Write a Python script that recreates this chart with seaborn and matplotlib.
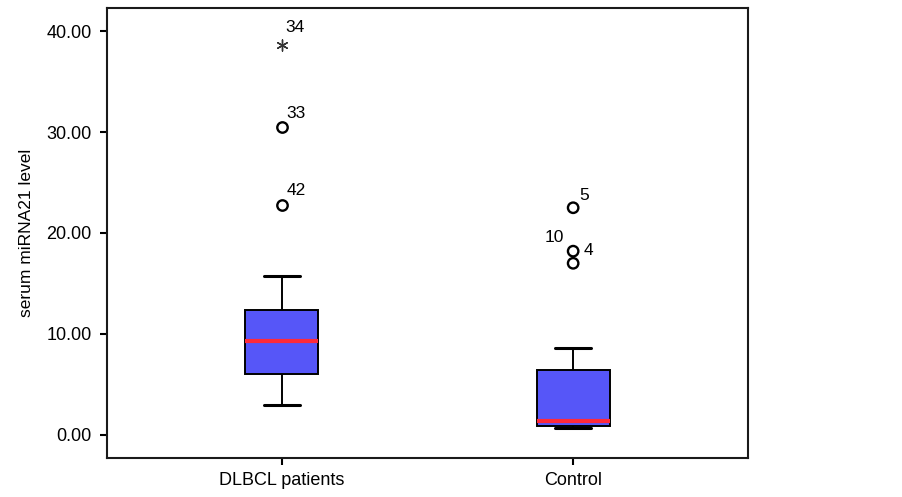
import pandas as pd
import matplotlib.pyplot as plt
import seaborn as sns

# categories on the x axis
groups = ['DLBCL patients', 'Control']

# box summaries: lower whisker, Q1, median, Q3, upper whisker
dlbcl_box = [2.97, 6.0, 9.34, 12.38, 15.74]
control_box = [0.66, 0.92, 1.42, 6.44, 8.58]

# outliers (circles) with their case numbers
outlier_group = ['DLBCL patients', 'DLBCL patients', 'Control', 'Control', 'Control']
outlier_value = [22.8, 30.5, 22.5, 18.2, 17.0]
outlier_case = ['42', '33', '5', '10', '4']

# extreme values (star)
extreme_group = ['DLBCL patients']
extreme_value = [38.6]
extreme_case = ['34']

yticks = [0, 10, 20, 30, 40]

sns.set_theme(style='ticks', rc={
    'axes.linewidth': 1.5,
    'axes.edgecolor': '#1a1a1a',
    'xtick.major.width': 1.5,
    'ytick.major.width': 1.5,
    'xtick.major.size': 5,
    'ytick.major.size': 5,
    'xtick.color': 'black',
    'ytick.color': 'black',
    'text.color': 'black',
    'axes.labelcolor': 'black',
})
plt.rcParams['font.family'] = ['Liberation Sans', 'DejaVu Sans']

fig = plt.figure(figsize=(9.03, 4.97), dpi=100)
ax = fig.add_axes([0.1185, 0.0785, 0.7098, 0.9054])

box_df = pd.DataFrame({
    'group': [groups[0]] * len(dlbcl_box) + [groups[1]] * len(control_box),
    'level': dlbcl_box + control_box,
})

sns.boxplot(data=box_df, x='group', y='level', order=groups, ax=ax,
            width=0.25, whis=1.5, showfliers=False, saturation=1,
            color='#5656f8', linecolor='black', linewidth=1.4,
            medianprops={'color': '#ff2a3a', 'linewidth': 3.0},
            capprops={'linewidth': 2.2},
            whiskerprops={'linewidth': 1.4})

# circles for outliers
sns.stripplot(x=outlier_group, y=outlier_value, order=groups, ax=ax,
              jitter=False, marker='o', size=7.5, color='white',
              edgecolor='black', linewidth=1.7)
ax.collections[-1].set_facecolor('none')

# asterisk for the extreme value
sns.stripplot(x=extreme_group, y=extreme_value, order=groups, ax=ax,
              jitter=False, marker=(6, 2, 0), size=8, color='#333333',
              linewidth=1.0)

# case labels (offsets in points)
outlier_offsets = [(3.6, 7.2), (3.6, 6.5), (4.3, 5.8), (-6.5, 6.5), (7.2, 5.8)]
outlier_ha = ['left', 'left', 'left', 'right', 'left']
for g, v, c, off, ha in zip(outlier_group, outlier_value, outlier_case,
                            outlier_offsets, outlier_ha):
    ax.annotate(c, xy=(groups.index(g), v), xytext=off,
                textcoords='offset points', ha=ha, va='baseline', fontsize=12.5)
for g, v, c in zip(extreme_group, extreme_value, extreme_case):
    ax.annotate(c, xy=(groups.index(g), v), xytext=(2.9, 9.4),
                textcoords='offset points', ha='left', va='baseline', fontsize=12.5)

ax.set_xlim(-0.6, 1.6)
ax.set_ylim(-2.28, 42.28)
ax.set_yticks(yticks)
ax.set_yticklabels([f'{t:.2f}' for t in yticks])
ax.tick_params(axis='both', labelsize=13, direction='out')
ax.tick_params(axis='x', pad=5)
ax.tick_params(axis='y', pad=6)
ax.set_xlabel('')
ax.set_ylabel('serum miRNA21 level', fontsize=12.5)
ax.yaxis.set_label_coords(-0.114, 0.5)

for spine in ax.spines.values():
    spine.set_visible(True)
    spine.set_linewidth(1.5)

plt.savefig('out.png', dpi=100, facecolor='white')
